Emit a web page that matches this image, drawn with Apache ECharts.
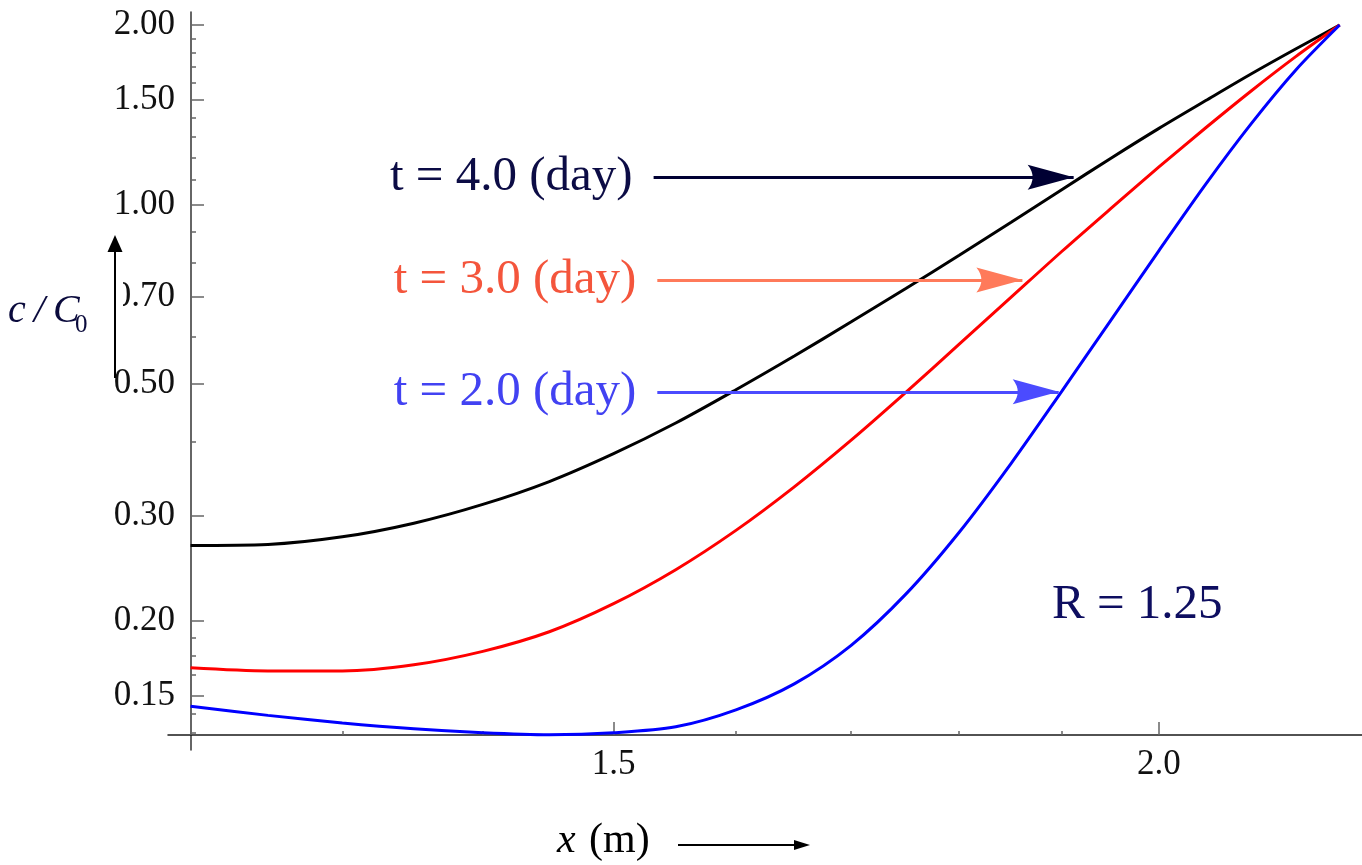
<!DOCTYPE html>
<html>
<head>
<meta charset="utf-8">
<title>c/C0 versus x</title>
<script src="https://cdn.jsdelivr.net/npm/echarts@6/dist/echarts.min.js"></script>
<style>
  html, body { margin: 0; padding: 0; background: #ffffff; }
  #chart { width: 1362px; height: 865px; }
</style>
</head>
<body>
<div id="chart"></div>
<script>
// distance along the column, x (m)
const xValues = [1.20, 1.25, 1.30, 1.35, 1.40, 1.45, 1.50, 1.55, 1.60, 1.65, 1.70,
                 1.75, 1.80, 1.85, 1.90, 1.95, 2.00, 2.05, 2.10, 2.15, 2.20];

// relative concentration c/C0 at each x
const conc4day = [0.268, 0.269, 0.277, 0.292, 0.314, 0.343, 0.382, 0.430, 0.489, 0.557, 0.635,
                  0.723, 0.822, 0.934, 1.059, 1.196, 1.342, 1.494, 1.657, 1.825, 2.000];
const conc3day = [0.167, 0.165, 0.165, 0.169, 0.178, 0.192, 0.214, 0.244, 0.284, 0.336, 0.402,
                  0.484, 0.583, 0.699, 0.834, 0.985, 1.156, 1.345, 1.552, 1.772, 2.000];
const conc2day = [0.144, 0.139, 0.135, 0.132, 0.130, 0.129, 0.130, 0.133, 0.142, 0.157, 0.182,
                  0.222, 0.282, 0.368, 0.486, 0.640, 0.837, 1.082, 1.368, 1.683, 2.000];

// axis ticks
const yMajorTicks = [0.15, 0.20, 0.30, 0.50, 0.70, 1.00, 1.50, 2.00];
const yMinorTicks = [0.13, 0.14, 0.1625, 0.175, 0.1875, 0.4, 0.6, 0.8, 0.9,
                     1.1, 1.2, 1.3, 1.4, 1.6, 1.7, 1.8, 1.9];
const xMajorTicks = [1.5, 2.0];
const xMinorTicks = [1.2, 1.3, 1.4, 1.6, 1.7, 1.8, 1.9];

// axis ranges (both axes logarithmic)
const X_MIN = 1.1858, X_MAX = 2.2261;
const Y_MIN = 0.1216, Y_MAX = 2.1034;

// arrow annotations: text, level c/C0, arrow start x, arrow tip x
const annotLabels = ['t = 4.0 (day)', 't = 3.0 (day)', 't = 2.0 (day)'];
const annotY      = [1.111, 0.747, 0.485];
const annotXStart = [1.532, 1.535, 1.535];
const annotXEnd   = [1.912, 1.861, 1.897];

const FONT = '"Liberation Serif", "Times New Roman", Times, serif';
const curveColors = ['#000000', '#ff0000', '#0000ff'];
const arrowColors = ['#000033', '#ff7a5a', '#4b4bff'];
const labelColors = ['#0c0c45', '#f4553c', '#4242f2'];
const ARROW_HEAD = 'path://M12.5,0 L25,46 Q12.5,36 0,46 Z';

const chart = echarts.init(document.getElementById('chart'), null, { renderer: 'canvas' });

const tickStyle = { color: '#666666', width: 1.5 };
const labelFont = { fontFamily: FONT, fontSize: 35, color: '#111111' };

function logAxis(extra) {
  return Object.assign({
    type: 'log',
    logBase: 10,
    splitLine: { show: false },
    minorTick: { show: false },
    minorSplitLine: { show: false },
    axisPointer: { show: false }
  }, extra);
}

const concSeries = [conc4day, conc3day, conc2day].map((vals, k) => ({
  type: 'line',
  xAxisIndex: 0,
  yAxisIndex: 0,
  data: xValues.map((x, i) => [x, vals[i]]),
  showSymbol: false,
  smooth: 0.3,
  silent: true,
  z: 2,
  lineStyle: { color: curveColors[k], width: 3 },
  itemStyle: { color: curveColors[k] }
}));

const annotationSeries = {
  type: 'line',
  xAxisIndex: 0,
  yAxisIndex: 0,
  data: [],
  silent: true,
  z: 5,
  markLine: {
    silent: true,
    animation: false,
    precision: 4,
    lineStyle: { type: 'solid', width: 3 },
    label: { show: true, position: 'start', distance: 21, fontFamily: FONT, fontSize: 49 },
    emphasis: { disabled: true },
    data: annotLabels.map((text, i) => [
      {
        coord: [annotXStart[i], annotY[i]],
        symbol: 'none',
        lineStyle: { color: arrowColors[i], width: 3, type: 'solid' },
        label: { formatter: text, color: labelColors[i] }
      },
      {
        coord: [annotXEnd[i], annotY[i]],
        symbol: ARROW_HEAD,
        symbolSize: [25, 46],
        symbolOffset: [0, 23]
      }
    ])
  }
};

const option = {
  animation: false,
  backgroundColor: '#ffffff',
  grid: {
    left: 168, right: 0, top: 12, bottom: 115,
    containLabel: false,
    outerBoundsMode: 'none'
  },
  xAxis: [
    logAxis({
      min: X_MIN, max: X_MAX, position: 'bottom', offset: -15,
      axisLine: { show: true, lineStyle: { color: '#1a1a1a', width: 1.5 } },
      axisTick: { show: true, inside: true, length: 13, customValues: xMajorTicks, lineStyle: tickStyle },
      axisLabel: Object.assign({ show: true, margin: 12, customValues: xMajorTicks,
        formatter: v => Number(v).toFixed(1) }, labelFont)
    }),
    logAxis({
      min: X_MIN, max: X_MAX, position: 'bottom', offset: -15,
      axisLine: { show: false },
      axisTick: { show: true, inside: true, length: 4, customValues: xMinorTicks, lineStyle: tickStyle },
      axisLabel: { show: false }
    })
  ],
  yAxis: [
    logAxis({
      min: Y_MIN, max: Y_MAX, position: 'left', offset: -23,
      axisLine: { show: true, lineStyle: { color: '#333333', width: 1.5 } },
      axisTick: { show: true, inside: true, length: 13, customValues: yMajorTicks, lineStyle: tickStyle },
      axisLabel: Object.assign({ show: true, margin: 16, customValues: yMajorTicks,
        formatter: v => Number(v).toFixed(2) }, labelFont)
    }),
    logAxis({
      min: Y_MIN, max: Y_MAX, position: 'left', offset: -23,
      axisLine: { show: false },
      axisTick: { show: true, inside: true, length: 5, customValues: yMinorTicks, lineStyle: tickStyle },
      axisLabel: { show: false }
    })
  ],
  series: concSeries.concat([annotationSeries]),
  graphic: [
    // label box of the vertical axis title
    { type: 'rect', silent: true, z: 100, shape: { x: 0, y: 282, width: 123, height: 48 },
      style: { fill: '#ffffff' } },
    // vertical axis title c/C0 with its arrow
    { type: 'line', silent: true, z: 101, shape: { x1: 115, y1: 378, x2: 115, y2: 250 },
      style: { stroke: '#000000', lineWidth: 2 } },
    { type: 'polygon', silent: true, z: 101, shape: { points: [[115, 235], [122.5, 252], [107.5, 252]] },
      style: { fill: '#000000' } },
    { type: 'text', silent: true, z: 101, x: 8, y: 311,
      style: { text: 'c\u2009/\u2009C', fontFamily: FONT, fontStyle: 'italic', fontSize: 40,
               fill: '#0a0a3c', verticalAlign: 'middle' } },
    { type: 'text', silent: true, z: 101, x: 75, y: 325,
      style: { text: '0', fontFamily: FONT, fontSize: 25, fill: '#0a0a3c', verticalAlign: 'middle' } },
    // horizontal axis title x (m) with its arrow
    { type: 'text', silent: true, z: 101, x: 557, y: 841,
      style: { text: 'x', fontFamily: FONT, fontStyle: 'italic', fontSize: 42, fill: '#000000',
               verticalAlign: 'middle' } },
    { type: 'text', silent: true, z: 101, x: 589, y: 841,
      style: { text: '(m)', fontFamily: FONT, fontSize: 42, fill: '#000000', verticalAlign: 'middle' } },
    { type: 'line', silent: true, z: 101, shape: { x1: 678, y1: 845, x2: 797, y2: 845 },
      style: { stroke: '#000000', lineWidth: 2 } },
    { type: 'polygon', silent: true, z: 101, shape: { points: [[810, 845], [794, 840], [794, 850]] },
      style: { fill: '#000000' } },
    // retardation factor note
    { type: 'text', silent: true, z: 101, x: 1052, y: 605,
      style: { text: 'R = 1.25', fontFamily: FONT, fontSize: 49, fill: '#0e0e60', verticalAlign: 'middle' } }
  ]
};

chart.setOption(option);
</script>
</body>
</html>
